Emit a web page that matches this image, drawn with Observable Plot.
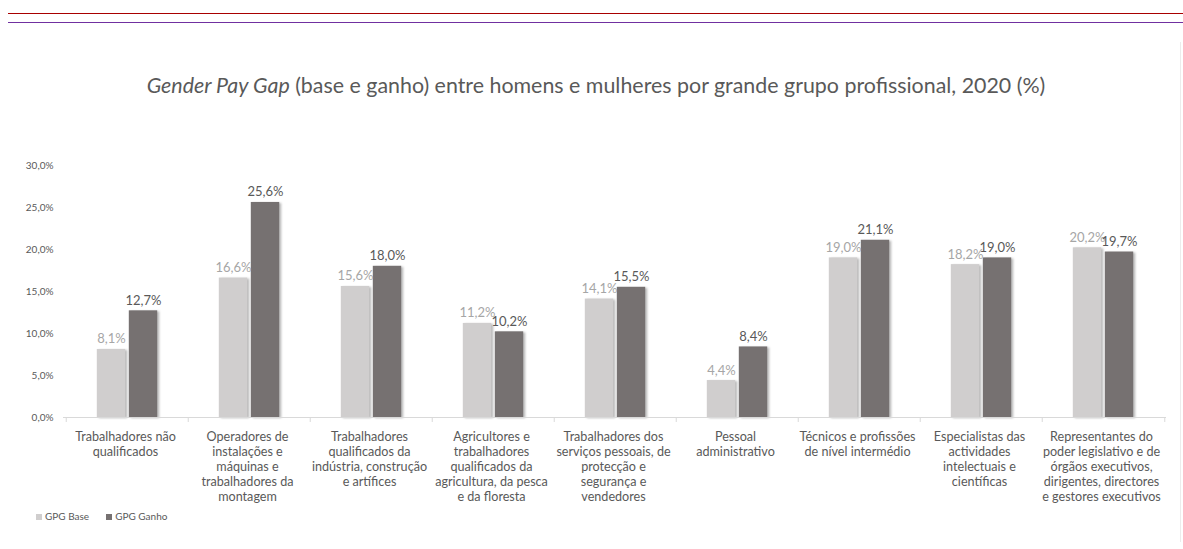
<!DOCTYPE html>
<html>
<head>
<meta charset="utf-8">
<script src="https://cdn.jsdelivr.net/npm/d3@7"></script>
<script src="https://cdn.jsdelivr.net/npm/@observablehq/plot@0.6"></script>
<style>
  html, body { margin: 0; padding: 0; background: #fff; }
  body { width: 1183px; height: 549px; position: relative; overflow: hidden; font-family: Lato, "Open Sans", sans-serif; color: #595959; }
  .line { position: absolute; left: 8px; right: 0; height: 1px; }
  #title { position: absolute; top: 72px; left: 0; width: 1192px; text-align: center; font-size: 21.4px; color: #595959; white-space: nowrap; }
  #chart { position: absolute; top: 150px; left: 0; }
  #legend { position: absolute; top: 510px; left: 36px; font-size: 10px; color: #595959; display: flex; gap: 17px; }
  #legend span.sw { display: inline-block; width: 6px; height: 6px; margin-right: 3px; vertical-align: 0px; }
  #border { position: absolute; left: 1180px; top: 42px; width: 1px; height: 500px; background: #ececec; }
  #chart [aria-label="bar"] rect { filter: drop-shadow(2px 1px 1px rgba(0,0,0,0.28)); }
</style>
</head>
<body>
<div class="line" style="top:13px; background:#a80000;"></div>
<div class="line" style="top:22px; background:#7030a0;"></div>
<div id="border"></div>
<div id="title"><i>Gender Pay Gap</i> (base e ganho) entre homens e mulheres por grande grupo profissional, 2020 (%)</div>
<div id="chart"></div>
<div id="legend">
  <div><span class="sw" style="background:#d0cece"></span>GPG Base</div>
  <div><span class="sw" style="background:#767171"></span>GPG Ganho</div>
</div>
<script>
const categories = [
  "Trabalhadores não qualificados",
  "Operadores de instalações e máquinas e trabalhadores da montagem",
  "Trabalhadores qualificados da indústria, construção e artífices",
  "Agricultores e trabalhadores qualificados da agricultura, da pesca e da floresta",
  "Trabalhadores dos serviços pessoais, de protecção e segurança e vendedores",
  "Pessoal administrativo",
  "Técnicos e profissões de nível intermédio",
  "Especialistas das actividades intelectuais e científicas",
  "Representantes do poder legislativo e de órgãos executivos, dirigentes, directores e gestores executivos"
];
const tickLabels = [
  "Trabalhadores não\nqualificados",
  "Operadores de\ninstalações e\nmáquinas e\ntrabalhadores da\nmontagem",
  "Trabalhadores\nqualificados da\nindústria, construção\ne artífices",
  "Agricultores e\ntrabalhadores\nqualificados da\nagricultura, da pesca\ne da floresta",
  "Trabalhadores dos\nserviços pessoais, de\nprotecção e\nsegurança e\nvendedores",
  "Pessoal\nadministrativo",
  "Técnicos e profissões\nde nível intermédio",
  "Especialistas das\nactividades\nintelectuais e\ncientíficas",
  "Representantes do\npoder legislativo e de\nórgãos executivos,\ndirigentes, directores\ne gestores executivos"
];
const gpgBase  = [8.1, 16.6, 15.6, 11.2, 14.1, 4.4, 19.0, 18.2, 20.2];
const gpgGanho = [12.7, 25.6, 18.0, 10.2, 15.5, 8.4, 21.1, 19.0, 19.7];
const yTicks = [0, 5, 10, 15, 20, 25, 30];

const rows = categories.map((c, i) => ({category: c, base: gpgBase[i], ganho: gpgGanho[i]}));
const pct = v => v.toFixed(1).replace(".", ",") + "%";

const chart = Plot.plot({
  width: 1183,
  height: 380,
  marginLeft: 63,
  marginRight: 17,
  marginTop: 15,
  marginBottom: 113,
  style: {fontFamily: "Lato, 'Open Sans', sans-serif", color: "#595959", background: "transparent", overflow: "visible"},
  x: {domain: categories, padding: 0, axis: null},
  y: {domain: [0, 30], axis: null},
  marks: [
    Plot.axisY({ticks: yTicks, tickSize: 0, tickPadding: 10, tickFormat: d => d.toFixed(1).replace(".", ",") + "%", fontSize: 10, label: null, fill: "#595959"}),
    Plot.axisX({tickSize: 0, tickPadding: 13, tickFormat: d => tickLabels[categories.indexOf(d)], fontSize: 12.6, lineHeight: 1.19, label: null, fill: "#595959", dx: -2}),
    Plot.barY(rows, {x: "category", y: "base", fill: "#d0cece", insetLeft: 30.8, insetRight: 62.8}),
    Plot.barY(rows, {x: "category", y: "ganho", fill: "#767171", insetLeft: 62.8, insetRight: 30.8}),
    Plot.ruleY([0], {stroke: "#d9d9d9"}),
    Plot.ruleX(categories, {x: d => d, y1: 0, y2: -0.6, dx: -61.28, stroke: "#d9d9d9"}),
    Plot.ruleX([categories[categories.length - 1]], {x: d => d, y1: 0, y2: -0.6, dx: 61.28, stroke: "#d9d9d9"}),
    Plot.text(rows, {x: "category", y: "base", text: d => pct(d.base), dx: -16, dy: -6, lineAnchor: "bottom", fill: "#a6a6a6", fontSize: 13}),
    Plot.text(rows, {x: "category", y: "ganho", text: d => pct(d.ganho), dx: 16, dy: -6, lineAnchor: "bottom", fill: "#595959", fontSize: 13})
  ]
});
document.getElementById("chart").append(chart);
</script>
</body>
</html>
